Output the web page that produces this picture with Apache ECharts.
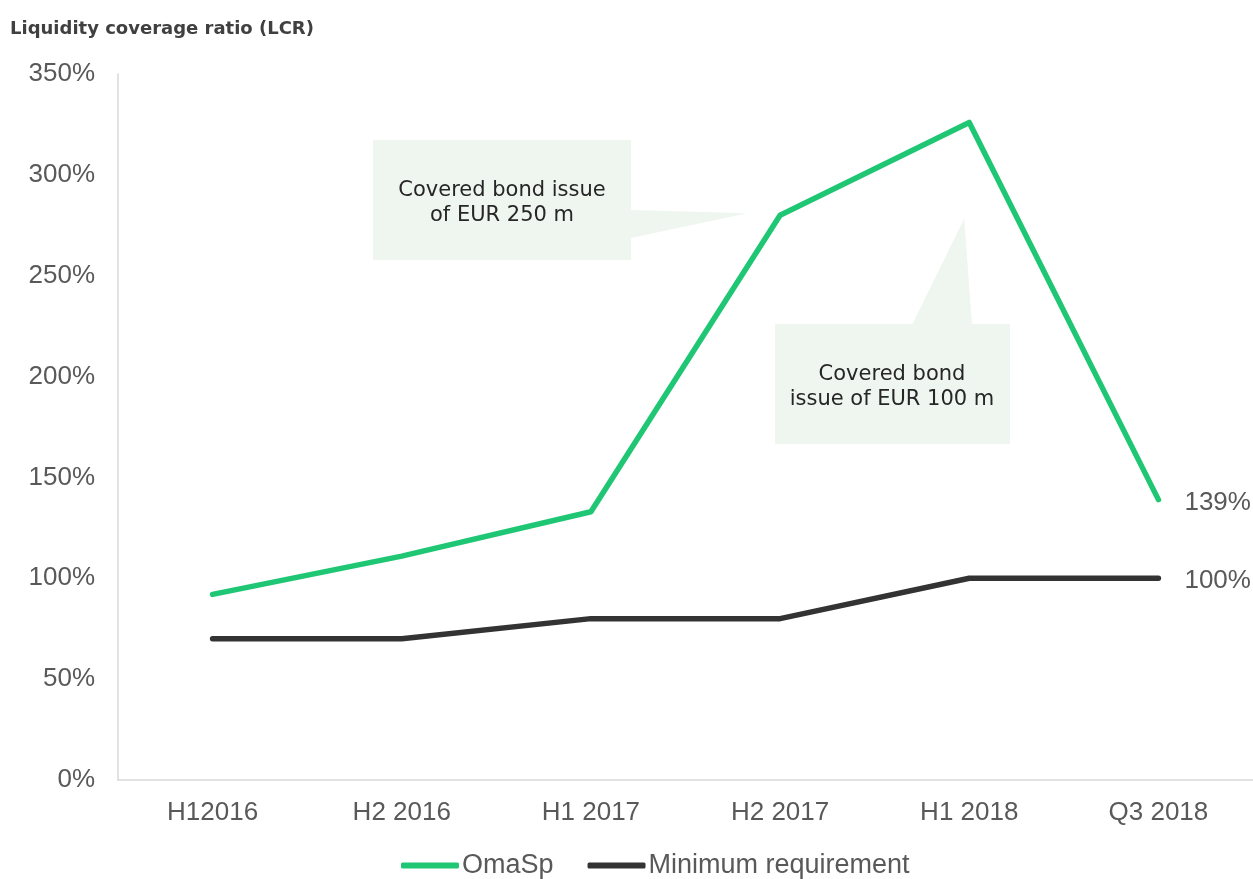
<!DOCTYPE html>
<html><head><meta charset="utf-8">
<script src="https://cdn.jsdelivr.net/npm/echarts@6/dist/echarts.min.js"></script>
<style>html,body{margin:0;padding:0;background:#fff}#c{width:1253px;height:879px}</style>
</head><body><div id="c"></div>
<script>
const categories = ['H12016', 'H2 2016', 'H1 2017', 'H2 2017', 'H1 2018', 'Q3 2018'];
const omaSp = [0.92, 1.11, 1.33, 2.80, 3.26, 1.39];
const minimumRequirement = [0.70, 0.70, 0.80, 0.80, 1.00, 1.00];
const seriesNames = ['OmaSp', 'Minimum requirement'];
const titleText = 'Liquidity coverage ratio (LCR)';
const note1 = 'Covered bond issue\nof EUR 250 m';
const note2 = 'Covered bond\nissue of EUR 100 m';

const chart = echarts.init(document.getElementById('c'), null, {renderer: 'canvas'});
const pct = v => Math.round(v * 100) + '%';
const font = 'Liberation Sans, Arial, sans-serif';
const endLabel = {
  show: true, distance: 26, offset: [0, 3],
  formatter: p => pct(p.value),
  color: '#595959', fontSize: 26, fontFamily: font
};
const calloutFill = '#EEF6EF';
chart.setOption({
  animation: false,
  title: {text: titleText, left: 5, top: 15,
    textStyle: {fontSize: 18, fontWeight: 'bold', color: '#404040', fontFamily: 'DejaVu Sans, sans-serif'}},
  grid: {left: 118, right: 0, top: 74, bottom: 99},
  legend: {top: 847, left: 396, itemWidth: 58, itemHeight: 6, itemGap: 34,
    icon: 'roundRect',
    textStyle: {fontSize: 27, color: '#595959', fontFamily: font, padding: [0,0,0,-2]},
    data: seriesNames},
  xAxis: {type: 'category', data: categories, boundaryGap: true,
    axisLine: {lineStyle: {color: '#D9D9D9', width: 1.5}}, axisTick: {show: false},
    axisLabel: {color: '#595959', fontSize: 26, margin: 20, fontFamily: font}},
  yAxis: {type: 'value', min: 0, max: 3.5, interval: 0.5,
    axisLine: {show: true, lineStyle: {color: '#D9D9D9', width: 1.5}}, axisTick: {show: false},
    splitLine: {show: false},
    axisLabel: {formatter: pct, color: '#595959', fontSize: 26, margin: 23, fontFamily: font}},
  series: [
    {name: seriesNames[0], type: 'line', data: omaSp, symbol: 'none', smooth: false,
      lineStyle: {color: '#1FC774', width: 5.5, cap: 'round', join: 'round'}, itemStyle: {color: '#1FC774'},
      endLabel: endLabel, z: 3},
    {name: seriesNames[1], type: 'line', data: minimumRequirement, symbol: 'none', smooth: false,
      lineStyle: {color: '#333333', width: 5.5, cap: 'round', join: 'round'}, itemStyle: {color: '#333333'},
      endLabel: endLabel, z: 2}
  ]
});

// annotation callouts anchored to data points
const p1 = chart.convertToPixel({seriesIndex: 0}, [3, omaSp[3]]);
const p2 = chart.convertToPixel({seriesIndex: 0}, [4, omaSp[4]]);
const tip1 = [p1[0] - 33, p1[1] - 2];
const tip2 = [p2[0] - 5, p2[1] + 96];
chart.setOption({graphic: [
  {type: 'polygon', shape: {points: [[631, 210], tip1, [631, 238]]}, style: {fill: calloutFill}, z: 1},
  {type: 'rect', shape: {x: 373, y: 140, width: 258, height: 120}, style: {fill: calloutFill}, z: 1},
  {type: 'text', x: 502, y: 203, style: {text: note1, fill: '#262626', fontSize: 21, lineHeight: 25,
    align: 'center', verticalAlign: 'middle', fontFamily: 'DejaVu Sans, sans-serif'}, z: 5},
  {type: 'polygon', shape: {points: [[912, 325], tip2, [972, 325]]}, style: {fill: calloutFill}, z: 1},
  {type: 'rect', shape: {x: 775, y: 324, width: 235, height: 120}, style: {fill: calloutFill}, z: 1},
  {type: 'text', x: 892, y: 387, style: {text: note2, fill: '#262626', fontSize: 21, lineHeight: 25,
    align: 'center', verticalAlign: 'middle', fontFamily: 'DejaVu Sans, sans-serif'}, z: 5}
]});
</script></body></html>
